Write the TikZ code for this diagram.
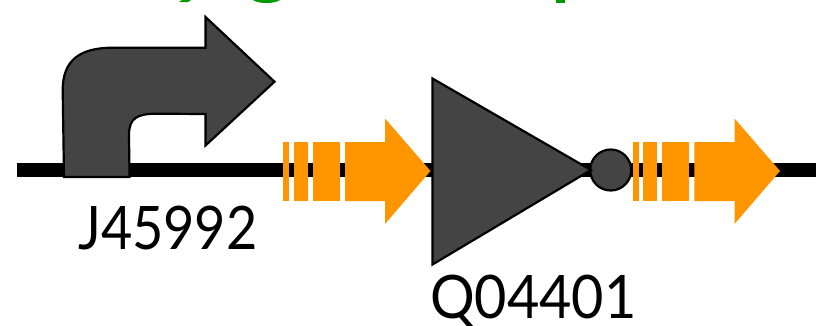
\documentclass[tikz,border=0pt]{standalone}
\usepackage{fontspec}
\setmainfont{Lato}
\definecolor{gate}{HTML}{444444}
\definecolor{cds}{HTML}{FF9600}
\definecolor{topgreen}{HTML}{009900}
\tikzset{
  gatefill/.style={fill=gate,draw=black,line width=2.2pt,line join=miter},
  cdsfill/.style={fill=cds,draw=none},
  lbl/.style={inner sep=0pt,text=black,font=\fontsize{60}{60}\selectfont},
  wire/.style={draw=black,line width=13.4pt}
}
\begin{document}
\begin{tikzpicture}[x=1pt,y=-1pt]
\useasboundingbox (0,0) rectangle (816,325);
% clipped green title descenders
\fill[topgreen] (182,0) -- (191,0) -- (188,2) -- (179,2) -- cycle;
\fill[topgreen] (253,0) -- (280,0) .. controls (275,4) and (258,4) .. (253,0) -- cycle;
\fill[topgreen] (556,0) rectangle (565,2.5);
% wire
\coordinate (wl) at (17,170);
\coordinate (wr) at (816,170);
\draw[wire] (wl) -- (wr);
% promoter
\draw[gatefill] (64,177) -- (62.7,90) .. controls (62.7,60) and (80,47.7) .. (113,47.7)
  -- (205.5,47.7) -- (205.5,17) -- (274.5,81.7) -- (205.5,145.5) -- (205.5,114)
  -- (157,113.7) .. controls (137,113.7) and (129,118) .. (129,135) -- (129.5,177) -- cycle;
% first cds
\fill[cdsfill] (283,142) rectangle (289,201);
\fill[cdsfill] (294,142) rectangle (308,201);
\fill[cdsfill] (313,142) rectangle (340,201);
\fill[cdsfill] (345,142) -- (385,142) -- (385,118.5) -- (430.5,171) -- (385,224) -- (385,201) -- (345,201) -- cycle;
% repressor
\node[circle,minimum size=41pt,inner sep=0pt,fill=gate,draw=black,line width=2.2pt] (bub) at (610.7,170) {};
\draw[gatefill] (432.5,78.5) -- (591,170) -- (432.5,264.5) -- cycle;
% second cds
\fill[cdsfill] (633,142) rectangle (639,201);
\fill[cdsfill] (643,142) rectangle (657,201);
\fill[cdsfill] (662,142) rectangle (689,201);
\fill[cdsfill] (694.3,142) -- (734.5,142) -- (734.5,118.5) -- (780,171) -- (734.5,224) -- (734.5,201) -- (694.3,201) -- cycle;
% labels
\node[lbl,xscale=0.9,anchor=base west] (j) at (78,249) {J45992};
\node[lbl,xscale=0.93,anchor=base west] (q) at (430,318) {Q04401};
\end{tikzpicture}
\end{document}
